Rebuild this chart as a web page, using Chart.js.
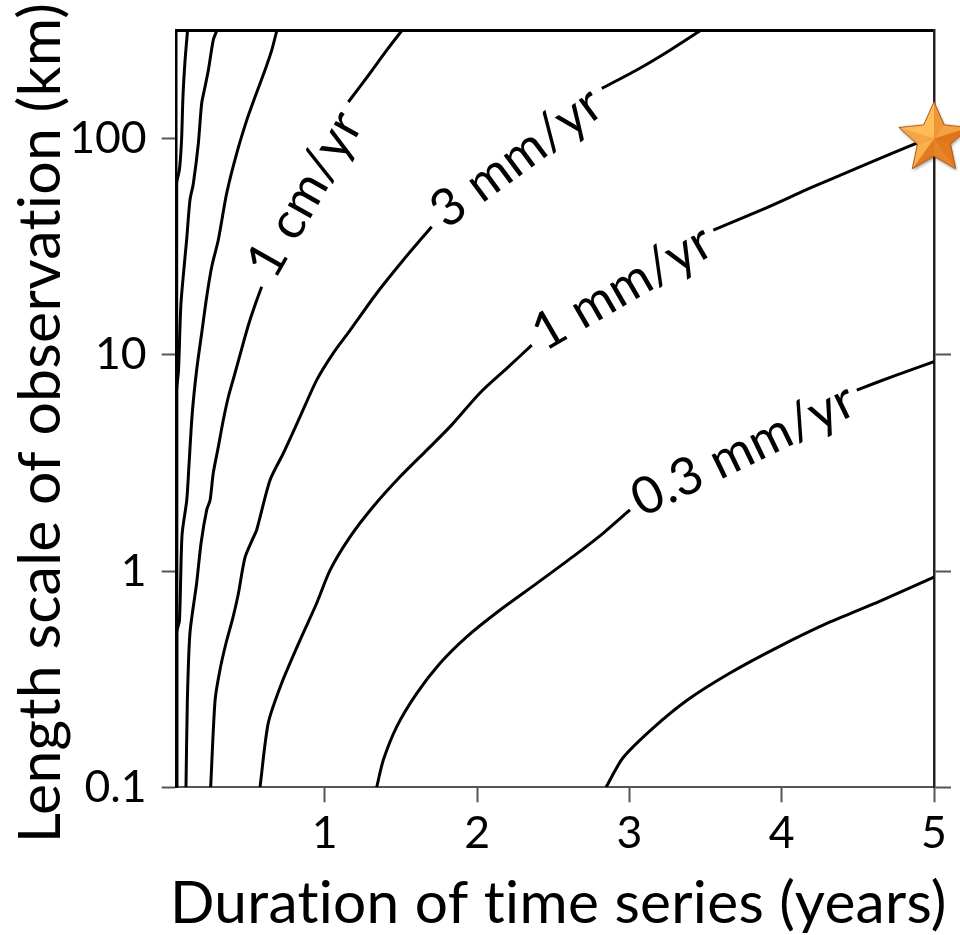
<!DOCTYPE html>
<html lang="en">
<head>
    <meta charset="UTF-8">
    <title>Velocity uncertainty contours</title>
    <script src="https://cdn.jsdelivr.net/npm/chart.js"></script>
    <style>
        html, body { margin: 0; padding: 0; background: #fff; }
        #wrap { width: 960px; height: 935px; }
    </style>
</head>
<body>
<div id="wrap"><canvas id="contourChart" width="960" height="935"></canvas></div>

<script>
    // axis ranges and ticks
    const xMin = 0.028, xMax = 5;
    const yMin = 0.1, yMax = 316.2;
    const xTickValues = [1, 2, 3, 4, 5];
    const yTickValues = [0.1, 1, 10, 100];
    const xTitle = 'Duration of time series (years)';
    const yTitle = 'Length scale of observation (km)';

    // contour lines: duration (years) vs length scale (km)
    // a null breaks the line where its label sits
    const t30cm = [0.028, 0.028, 0.046, 0.060, 0.069, 0.083, 0.099];
    const l30cm = [0.1, 62, 72, 99, 156, 231, 316];

    const t10cm = [0.028, 0.028, 0.040, 0.056, 0.094, 0.115, 0.137, 0.170, 0.192, 0.214, 0.236, 0.268, 0.291];
    const l10cm = [0.1, 6.8, 8.5, 17.3, 34.6, 52, 62, 95, 146, 174, 208, 286, 316];

    const t3cm = [0.028, 0.028, 0.046, 0.063, 0.094, 0.108, 0.130, 0.159, 0.192, 0.225, 0.258, 0.301, 0.356, 0.422, 0.488, 0.542, 0.608, 0.652, 0.685];
    const l3cm = [0.1, 0.52, 0.59, 1.47, 2.13, 3.04, 5.37, 8.52, 12.6, 18.6, 25.6, 34.0, 55.9, 85.6, 122, 156, 208, 257, 316];

    const t1cm = [0.089, 0.098, 0.115, 0.159, 0.188, 0.225, 0.247, 0.268, 0.301, 0.334, 0.367, 0.411, 0.465, 0.509, 0.547, 0.586, null, 1.155, 1.297, 1.407, 1.505];
    const l1cm = [0.1, 0.253, 0.517, 0.881, 1.35, 1.92, 2.13, 2.84, 3.75, 5.0, 6.39, 8.25, 11.35, 14.5, 17.4, 20.7, null, 148, 201, 257, 316];

    const t3mm = [0.251, 0.280, 0.312, 0.352, 0.398, 0.431, 0.477, 0.529, 0.553, 0.641, 0.728, 0.838, 0.947, 1.056, 1.166, 1.341, 1.516, 1.702, null, 2.819, 3.048, 3.267, 3.464];
    const l3mm = [0.1, 0.253, 0.349, 0.465, 0.613, 0.775, 1.16, 1.42, 1.55, 2.64, 3.51, 5.18, 7.65, 10.2, 13.0, 19.3, 27.5, 39.2, null, 171, 208, 257, 316];

    const t1mm = [0.575, 0.629, 0.717, 0.838, 0.947, 1.035, 1.166, 1.319, 1.494, 1.670, 1.823, 2.019, 2.195, 2.359, null, 3.551, 3.88, 4.208, 4.908, 5.0];
    const l1mm = [0.1, 0.198, 0.303, 0.480, 0.710, 1.01, 1.44, 1.99, 2.73, 3.63, 4.66, 6.67, 8.67, 11.1, null, 37.8, 47.3, 60.0, 96.8, 100];

    const t03mm = [1.341, 1.385, 1.473, 1.604, 1.757, 1.932, 2.151, 2.392, 2.632, 2.829, 3.004, null, 4.493, 4.744, 5.0];
    const l03mm = [0.1, 0.134, 0.191, 0.272, 0.375, 0.497, 0.661, 0.878, 1.17, 1.50, 1.92, null, 6.88, 8.03, 9.30];

    const t01mm = [2.847, 2.958, 3.155, 3.379, 3.661, 3.989, 4.318, 4.646, 5.0];
    const l01mm = [0.1, 0.137, 0.188, 0.253, 0.338, 0.450, 0.582, 0.727, 0.939];

    // the starred observation
    const starT = [5];
    const starL = [100];

    // ---- fonts: stand-in for Calibri, sized to the widths in the figure ----
    const FONT = 'Lato, "Open Sans", sans-serif';
    const SPACING = '0.3px';   // non-zero spacing keeps Lato from joining "ti"
    const probe = document.createElement('canvas').getContext('2d');
    function fitSize(text, width) {
        probe.font = '100px ' + FONT;
        probe.letterSpacing = SPACING;
        return 100 * width / probe.measureText(text).width;
    }
    const xTitleSize = fitSize(xTitle, 773);
    const yTitleSize = fitSize(yTitle, 837);
    const tickSize = fitSize('100', 78);
    const labelSize = fitSize('3 mm/yr', 198);

    function toPoints(ts, ls) {
        return ts.map((t, i) => ({ x: t, y: ls[i] }));
    }

    // orange bevelled star used as the point marker
    function makeStar(R) {
        const c = document.createElement('canvas');
        c.width = c.height = Math.ceil(2 * R + 8);
        const g = c.getContext('2d');
        const cx = c.width / 2, cy = c.height / 2, r = R * 0.47;
        const pts = [];
        for (let i = 0; i < 10; i++) {
            const a = -Math.PI / 2 + i * Math.PI / 5;
            const rad = i % 2 === 0 ? R : r;
            pts.push([cx + rad * Math.cos(a), cy + rad * Math.sin(a)]);
        }
        g.shadowColor = 'rgba(0,0,0,0.35)';
        g.shadowBlur = 3;
        g.shadowOffsetX = 1;
        g.shadowOffsetY = 2;
        g.beginPath();
        pts.forEach((p, i) => i ? g.lineTo(p[0], p[1]) : g.moveTo(p[0], p[1]));
        g.closePath();
        g.fillStyle = '#eb8d2f';
        g.fill();
        g.shadowColor = 'transparent';
        // facets, lit from the upper left
        for (let i = 0; i < 10; i++) {
            const p = pts[i], q = pts[(i + 1) % 10];
            const mid = Math.atan2((p[1] + q[1]) / 2 - cy, (p[0] + q[0]) / 2 - cx);
            const facing = i % 2 === 0 ? mid + 0.6 : mid - 0.6;
            const lit = 0.5 + 0.5 * Math.cos(facing - (-2.4));
            const rr = Math.round(222 + 33 * lit), gg = Math.round(115 + 75 * lit), bb = Math.round(25 + 65 * lit);
            g.beginPath();
            g.moveTo(cx, cy);
            g.lineTo(p[0], p[1]);
            g.lineTo(q[0], q[1]);
            g.closePath();
            g.fillStyle = `rgb(${rr},${gg},${bb})`;
            g.fill();
        }
        g.beginPath();
        pts.forEach((p, i) => i ? g.lineTo(p[0], p[1]) : g.moveTo(p[0], p[1]));
        g.closePath();
        g.strokeStyle = '#a9581a';
        g.lineWidth = 1;
        g.stroke();
        return c;
    }

    function contourSet(ts, ls, text) {
        return {
            type: 'scatter',
            showLine: true,
            data: toPoints(ts, ls),
            contourLabel: text,
            borderColor: '#000',
            borderWidth: 3,
            pointRadius: 0,
            tension: 0.25,
            spanGaps: false
        };
    }

    // rotated labels in the gaps of the contour lines
    const contourLabels = {
        id: 'contourLabels',
        afterDatasetsDraw(chart) {
            const { ctx, scales: { x, y } } = chart;
            ctx.save();
            ctx.font = labelSize + 'px ' + FONT;
            ctx.letterSpacing = SPACING;
            ctx.fillStyle = '#000';
            ctx.textAlign = 'center';
            ctx.textBaseline = 'middle';
            chart.data.datasets.forEach(ds => {
                if (!ds.contourLabel) return;
                const i = ds.data.findIndex(p => p.x === null);
                const a = ds.data[i - 1], b = ds.data[i + 1];
                const ax = x.getPixelForValue(a.x), ay = y.getPixelForValue(a.y);
                const bx = x.getPixelForValue(b.x), by = y.getPixelForValue(b.y);
                ctx.save();
                ctx.translate((ax + bx) / 2, (ay + by) / 2);
                // text sits a little flatter than the chord across the gap
                ctx.rotate(0.93 * Math.atan2(by - ay, bx - ax));
                ctx.fillText(ds.contourLabel, 0, 0);
                ctx.restore();
            });
            ctx.restore();
        }
    };

    // axis titles
    const axisTitles = {
        id: 'axisTitles',
        afterDraw(chart) {
            const { ctx, chartArea: ca } = chart;
            ctx.save();
            ctx.fillStyle = '#000';
            ctx.letterSpacing = SPACING;
            ctx.textBaseline = 'alphabetic';
            ctx.textAlign = 'center';
            ctx.font = xTitleSize + 'px ' + FONT;
            ctx.fillText(xTitle, (ca.left + ca.right) / 2 + 3, ca.bottom + 136);
            ctx.font = yTitleSize + 'px ' + FONT;
            ctx.translate(ca.left - 117, (ca.top + ca.bottom) / 2 + 14);
            ctx.rotate(-Math.PI / 2);
            ctx.fillText(yTitle, 0, 0);
            ctx.restore();
        }
    };

    // fixed box sizes; drop the label overhang padding Chart.js reserves
    function fixBox(size) {
        return s => {
            if (s.isHorizontal()) s.height = size; else s.width = size;
            s.paddingLeft = s.paddingRight = s.paddingTop = s.paddingBottom = 0;
        };
    }

    const ctx = document.getElementById('contourChart').getContext('2d');

    new Chart(ctx, {
        type: 'scatter',
        data: {
            datasets: [
                {
                    data: toPoints(starT, starL),
                    pointStyle: makeStar(37),
                    pointRadius: 0.5,      // image draws at its own size; small radius keeps layout untouched
                    pointBorderWidth: 0,
                    clip: false
                },
                contourSet(t30cm, l30cm, null),
                contourSet(t10cm, l10cm, null),
                contourSet(t3cm, l3cm, null),
                contourSet(t1cm, l1cm, '1 cm/yr'),
                contourSet(t3mm, l3mm, '3 mm/yr'),
                contourSet(t1mm, l1mm, '1 mm/yr'),
                contourSet(t03mm, l03mm, '0.3 mm/yr'),
                contourSet(t01mm, l01mm, null)
            ]
        },
        options: {
            responsive: false,
            animation: false,
            devicePixelRatio: 1,
            layout: { padding: 0 },
            plugins: { legend: { display: false }, tooltip: { enabled: false } },
            scales: {
                x: {
                    type: 'linear',
                    position: 'bottom',
                    min: xMin,
                    max: xMax,
                    afterBuildTicks: s => { s.ticks = xTickValues.map(v => ({ value: v })); },
                    afterFit: fixBox(147.7),
                    ticks: {
                        color: '#000',
                        font: { family: FONT, size: tickSize },
                        padding: 5,
                        maxRotation: 0,
                        callback: v => String(v)
                    },
                    grid: { drawOnChartArea: false, drawTicks: true, tickLength: 15, tickWidth: 2, tickColor: '#555' },
                    border: { display: true, color: '#555', width: 2 }
                },
                xTop: {
                    type: 'linear',
                    position: 'top',
                    min: xMin,
                    max: xMax,
                    afterBuildTicks: s => { s.ticks = []; },
                    afterFit: fixBox(30.7),
                    ticks: { display: false },
                    grid: { drawOnChartArea: false, drawTicks: false },
                    border: { display: true, color: '#000', width: 3 }
                },
                y: {
                    type: 'logarithmic',
                    position: 'left',
                    min: yMin,
                    max: yMax,
                    afterBuildTicks: s => { s.ticks = yTickValues.map(v => ({ value: v })); },
                    afterFit: fixBox(176.7),
                    ticks: {
                        color: '#000',
                        font: { family: FONT, size: tickSize },
                        padding: 15,
                        callback: v => String(v)
                    },
                    grid: { drawOnChartArea: false, drawTicks: true, tickLength: 15, tickWidth: 2, tickColor: '#555' },
                    border: { display: true, color: '#000', width: 2.5 }
                },
                yRight: {
                    type: 'logarithmic',
                    position: 'right',
                    min: yMin,
                    max: yMax,
                    afterBuildTicks: s => { s.ticks = yTickValues.map(v => ({ value: v })); },
                    afterFit: fixBox(26),
                    ticks: { display: false },
                    grid: { drawOnChartArea: false, drawTicks: true, tickLength: 17, tickWidth: 2, tickColor: '#555' },
                    border: { display: true, color: '#222', width: 2.5 }
                }
            }
        },
        plugins: [contourLabels, axisTitles]
    });
</script>
</body>
</html>
